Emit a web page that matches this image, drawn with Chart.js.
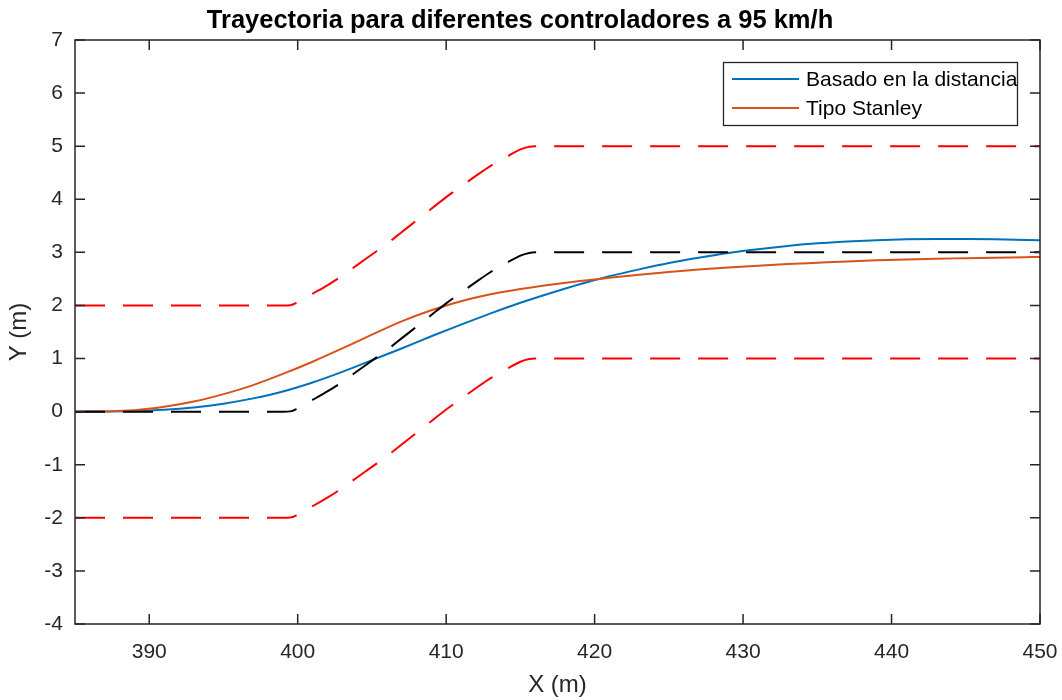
<!DOCTYPE html>
<html><head><meta charset="utf-8">
<script src="https://cdn.jsdelivr.net/npm/chart.js@4/dist/chart.umd.min.js"></script>
<style>html,body{margin:0;padding:0;background:#fff;}#wrap{width:1062px;height:700px;position:relative;}</style>
</head><body><div id="wrap"><canvas id="c" width="1062" height="700"></canvas></div>
<script>
const titleText = 'Trayectoria para diferentes controladores a 95 km/h';
const xTicks = [390, 400, 410, 420, 430, 440, 450];
const yTicks = [-4, -3, -2, -1, 0, 1, 2, 3, 4, 5, 6, 7];
const seriesNames = ['Basado en la distancia', 'Tipo Stanley'];

const xCtrl = [385,387,389,391,393,395,397,399,401,403,405,407,409,411,413,415,417,419,421,423,425,427,429,431,433,435,437,439,441,443,445,447,449,450];
const basadoDistancia = [0,0.003,0.012,0.035,0.08,0.15,0.25,0.38,0.55,0.75,0.97,1.19,1.42,1.64,1.85,2.05,2.23,2.40,2.55,2.68,2.80,2.90,2.99,3.06,3.12,3.17,3.205,3.23,3.245,3.25,3.25,3.245,3.235,3.23];
const tipoStanley = [0,0.004,0.025,0.09,0.19,0.33,0.50,0.71,0.94,1.19,1.45,1.70,1.91,2.08,2.21,2.31,2.39,2.46,2.52,2.58,2.63,2.675,2.715,2.75,2.78,2.805,2.83,2.85,2.865,2.88,2.89,2.90,2.91,2.915];

const xRef = [385,399,399.5,400,401,402,403,404,405,406,407,408,409,410,411,412,413,414,415,415.6,416,450];
const refCenter = [0,0,0.005,0.06,0.22,0.38,0.56,0.76,0.96,1.16,1.38,1.6,1.82,2.04,2.24,2.44,2.63,2.79,2.94,2.99,3,3];
const refUpper = [2,2,2.005,2.06,2.22,2.38,2.56,2.76,2.96,3.16,3.38,3.6,3.82,4.04,4.24,4.44,4.63,4.79,4.94,4.99,5,5];
const refLower = [-2,-2,-1.995,-1.94,-1.78,-1.62,-1.44,-1.24,-1.04,-0.84,-0.62,-0.4,-0.18,0.04,0.24,0.44,0.63,0.79,0.94,0.99,1,1];

const pts = (xs, ys) => xs.map((v, i) => ({x: v, y: ys[i]}));
const FONT = '"Liberation Sans", Arial, Helvetica, sans-serif';
const AX = '#262626';
const BLUE = '#0072BD', ORANGE = '#D95319';

const framePlugin = {
  id: 'frame',
  afterDatasetsDraw(chart) {
    const {ctx, chartArea: a, scales: {x, y}} = chart;
    ctx.save();
    ctx.strokeStyle = AX; ctx.lineWidth = 1.5;
    ctx.strokeRect(a.left, a.top, a.right - a.left, a.bottom - a.top);
    ctx.beginPath();
    const tl = 10;
    xTicks.forEach(v => { const p = x.getPixelForValue(v);
      ctx.moveTo(p, a.bottom); ctx.lineTo(p, a.bottom - tl);
      ctx.moveTo(p, a.top); ctx.lineTo(p, a.top + tl); });
    yTicks.forEach(v => { const p = y.getPixelForValue(v);
      ctx.moveTo(a.left, p); ctx.lineTo(a.left + tl, p);
      ctx.moveTo(a.right, p); ctx.lineTo(a.right - tl, p); });
    ctx.stroke();
    // legend
    const bx = 723.5, by = 62.5, bw = 294, bh = 63;
    ctx.fillStyle = '#fff'; ctx.fillRect(bx, by, bw, bh);
    ctx.strokeStyle = AX; ctx.lineWidth = 1.3; ctx.strokeRect(bx, by, bw, bh);
    const rows = [[BLUE, seriesNames[0], 79], [ORANGE, seriesNames[1], 108]];
    ctx.font = '21px ' + FONT; ctx.textBaseline = 'middle'; ctx.textAlign = 'left';
    rows.forEach(([c, t, ry]) => {
      ctx.strokeStyle = c; ctx.lineWidth = 2;
      ctx.beginPath(); ctx.moveTo(732, ry); ctx.lineTo(799, ry); ctx.stroke();
      ctx.fillStyle = '#000'; ctx.fillText(t, 806, ry + 1);
    });
    ctx.restore();
  }
};

new Chart(document.getElementById('c'), {
  type: 'line',
  data: {
    datasets: [
      {label: seriesNames[0], data: pts(xCtrl, basadoDistancia), borderColor: BLUE, borderWidth: 2, order: 5},
      {label: seriesNames[1], data: pts(xCtrl, tipoStanley), borderColor: ORANGE, borderWidth: 2, order: 4},
      {label: 'ref', data: pts(xRef, refCenter), borderColor: '#000', borderWidth: 2, borderDash: [30, 18], order: 3},
      {label: 'sup', data: pts(xRef, refUpper), borderColor: '#FF0000', borderWidth: 2, borderDash: [30, 18], order: 2},
      {label: 'inf', data: pts(xRef, refLower), borderColor: '#FF0000', borderWidth: 2, borderDash: [30, 18], order: 1}
    ]
  },
  options: {
    responsive: false, animation: false,
    elements: {point: {radius: 0}, line: {cubicInterpolationMode: 'monotone', fill: false}},
    layout: {padding: {left: 0, right: 22, top: 0, bottom: 0}},
    plugins: {
      legend: {display: false}, tooltip: {enabled: false},
      title: {display: true, text: titleText, color: '#000', font: {family: FONT, size: 25.5, weight: 'bold'}, padding: {top: 6, bottom: 3.4}}
    },
    scales: {
      x: {type: 'linear', min: 385, max: 450,
        afterBuildTicks: s => { s.ticks = xTicks.map(v => ({value: v})); },
        afterFit: s => { s.height = 76; s.paddingRight = 0; s.paddingLeft = 0; },
        grid: {display: false, drawTicks: false}, border: {display: false},
        ticks: {color: AX, font: {family: FONT, size: 21}, padding: 16, maxRotation: 0, autoSkip: false},
        title: {display: true, text: 'X (m)', color: AX, font: {family: FONT, size: 24}, padding: {top: 0, bottom: 0}}
      },
      y: {type: 'linear', min: -4, max: 7,
        afterBuildTicks: s => { s.ticks = yTicks.map(v => ({value: v})); },
        afterFit: s => { s.width = 75; s.paddingTop = 0; s.paddingBottom = 0; },
        grid: {display: false, drawTicks: false}, border: {display: false},
        ticks: {color: AX, font: {family: FONT, size: 21}, padding: 12, autoSkip: false},
        title: {display: true, text: 'Y (m)', color: AX, font: {family: FONT, size: 24}, padding: {top: 5, bottom: 0}}
      }
    }
  },
  plugins: [framePlugin]
});
</script></body></html>
